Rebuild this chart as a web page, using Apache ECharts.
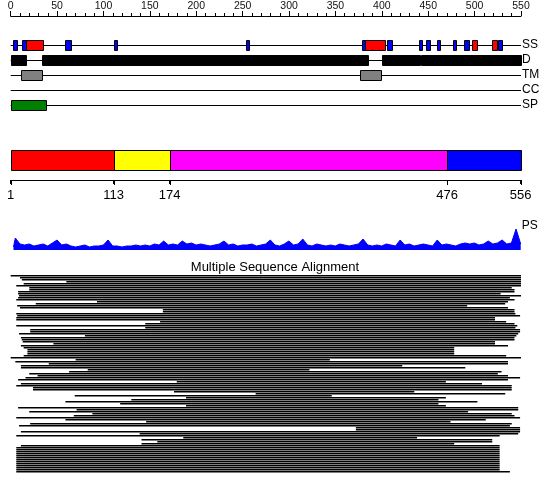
<!DOCTYPE html>
<html><head><meta charset="utf-8">
<script src="https://cdn.jsdelivr.net/npm/echarts@6/dist/echarts.min.js"></script>
<style>html,body{margin:0;padding:0;background:#fff}#c{width:550px;height:495px}</style>
</head><body><div id="c"></div>
<script>
// ---------- data ----------
const seqRange = [0, 550];
const trackNames = ['SS', 'D', 'TM', 'CC', 'SP'];
const ssHelix = [[16, 35], [382, 403], [497, 503], [519, 524]];
const ssStrand = [[2, 7], [12, 16], [59, 65], [111, 115], [254, 257], [379, 382], [406, 411], [440, 443], [448, 452], [459, 463], [477, 480], [489, 494], [525, 530]];
const disorder = [[0, 17], [34, 385], [400, 441], [442, 550]];
const transmem = [[11, 34], [377, 399]];
const coiledCoil = [];
const signalPep = [[0, 38]];
const domainBounds = [1, 113, 174, 476, 556];
const psProfile = [[3,3],[5,12],[10,6],[15,5],[20,6],[25,4],[30,5],[35,6],[40,4],[45,7],[50,10],[55,5],[60,6],[65,4],[70,3],[75,4],[80,5],[85,3],[90,4],[95,4],[100,5],[105,10],[110,4],[115,4],[120,3],[125,4],[130,4],[135,5],[140,4],[145,5],[150,4],[155,6],[160,5],[165,9],[170,5],[175,6],[180,5],[185,9],[190,6],[195,7],[200,5],[205,6],[210,5],[215,4],[220,5],[225,6],[230,9],[235,5],[240,6],[245,4],[250,5],[255,5],[260,6],[265,4],[270,5],[275,6],[280,10],[285,5],[290,4],[295,6],[300,9],[305,5],[310,6],[315,11],[320,5],[325,4],[330,6],[335,5],[340,4],[345,5],[350,4],[355,6],[360,5],[365,4],[370,5],[375,6],[380,11],[385,5],[390,4],[395,5],[400,4],[405,6],[410,5],[415,4],[420,10],[425,5],[430,6],[435,4],[440,5],[445,6],[450,5],[455,4],[460,10],[465,5],[470,6],[475,5],[480,4],[485,6],[490,7],[495,6],[500,7],[505,5],[510,6],[515,9],[520,6],[525,7],[530,10],[535,6],[540,7],[545,21],[550,6]];
const msaStart = [0,10,12,60,14,6,20,20,8,8,9,8,6,93,27,7,10,164,164,6,7,6,6,161,145,6,145,21,21,9,80,11,12,13,46,11,14,18,18,18,14,0,70,5,41,11,11,83,63,20,29,16,8,179,11,6,24,24,176,264,69,189,130,59,118,189,8,71,20,88,68,6,59,146,21,9,372,372,11,139,6,186,141,158,141,11,6,6,6,6,6,6,6,6,6,6,6,6,6];
const msaEnd   = [550,550,550,550,550,550,540,543,543,528,550,538,543,536,533,492,536,543,543,544,549,522,522,534,543,546,544,549,549,547,545,543,543,522,522,536,478,478,478,478,534,550,344,536,536,422,490,322,529,525,536,549,536,469,508,540,540,540,435,533,346,469,461,503,461,469,547,547,493,540,543,549,512,474,540,538,549,549,549,547,527,438,519,519,478,527,527,527,527,527,527,527,527,527,527,527,527,527,538];
const msaTitle = 'Multiple Sequence Alignment';

// ---------- styles ----------
const FONT = 'Liberation Sans';
const domainColors = ['#ff0000', '#ffff00', '#ff00ff', '#0000ff'];
const LEFT = 10.7, RIGHT = 29;

function boxSeries(data, trackIdx, fill, h) {
  return {
    type: 'custom', xAxisIndex: 1, yAxisIndex: 1, z: 3,
    data: data.map(d => [d[0], d[1]]),
    renderItem(params, api) {
      const a = api.coord([api.value(0), trackIdx]);
      const b = api.coord([api.value(1), trackIdx]);
      const x0 = Math.round(a[0]) + 0.5, x1 = Math.round(b[0]) + 0.5;
      const y0 = Math.round(a[1] - h / 2) + 0.5;
      return { type: 'rect', shape: { x: x0, y: y0, width: x1 - x0, height: h },
        style: { fill: fill, stroke: '#000', lineWidth: 1 } };
    }
  };
}

const domainSegs = domainBounds.slice(0, -1).map((v, i) => [v, domainBounds[i + 1]]);

const option = {
  animation: false,
  backgroundColor: '#fff',
  title: { text: msaTitle, left: 'center', top: 256,
    textStyle: { fontFamily: FONT, fontSize: 13, fontWeight: 'normal', color: '#000' } },
  grid: [
    { left: LEFT, right: RIGHT, top: 16, height: 1 },
    { left: LEFT, right: RIGHT, top: 37.5, height: 75 },
    { left: LEFT, right: 29.3, top: 150, height: 20 },
    { left: LEFT, right: 29.3, top: 228, height: 22 },
    { left: LEFT, right: RIGHT, top: 274, height: 198 }
  ],
  xAxis: [
    { gridIndex: 0, type: 'value', position: 'top', min: seqRange[0], max: seqRange[1], interval: 50,
      axisLine: { show: true, onZero: false, lineStyle: { color: '#000', width: 1 } },
      axisTick: { show: true, length: 5, lineStyle: { color: '#000' } },
      minorTick: { show: true, splitNumber: 5, length: 3, lineStyle: { color: '#000' } },
      splitLine: { show: false }, minorSplitLine: { show: false },
      axisLabel: { margin: 4, fontFamily: FONT, fontSize: 10.5, color: '#111', showMinLabel: true, showMaxLabel: true } },
    { gridIndex: 1, type: 'value', min: seqRange[0], max: seqRange[1], show: false },
    { gridIndex: 2, type: 'value', position: 'bottom', offset: 10, min: domainBounds[0], max: domainBounds[domainBounds.length - 1],
      axisLine: { show: true, onZero: false, lineStyle: { color: '#000', width: 1 } },
      axisTick: { show: true, length: 4, customValues: domainBounds, lineStyle: { color: '#000', width: 1 } },
      splitLine: { show: false },
      axisLabel: { customValues: domainBounds, margin: 9, fontFamily: FONT, fontSize: 13, color: '#000', showMinLabel: true, showMaxLabel: true } },
    { gridIndex: 3, type: 'value', min: seqRange[0], max: seqRange[1], show: false },
    { gridIndex: 4, type: 'value', min: seqRange[0], max: seqRange[1], show: false }
  ],
  yAxis: [
    { gridIndex: 0, type: 'value', min: 0, max: 1, show: false },
    { gridIndex: 1, type: 'category', data: trackNames, inverse: true, position: 'right',
      axisLine: { show: false }, axisTick: { show: false }, splitLine: { show: false },
      axisLabel: { interval: 0, margin: 1, fontFamily: FONT, fontSize: 12, color: '#000' } },
    { gridIndex: 2, type: 'value', min: 0, max: 1, show: false },
    { gridIndex: 3, type: 'value', min: 0, max: 22, show: false },
    { gridIndex: 4, type: 'category', data: msaStart.map((_, i) => i), inverse: true, show: false }
  ],
  series: [
    // track baselines
    { type: 'custom', xAxisIndex: 1, yAxisIndex: 1, z: 1,
      data: trackNames.map((n, i) => [i]),
      renderItem(params, api) {
        const a = api.coord([seqRange[0], api.value(0)]);
        const b = api.coord([seqRange[1], api.value(0)]);
        const y = Math.round(a[1]) + 0.5;
        return { type: 'line', shape: { x1: a[0], y1: y, x2: b[0], y2: y }, style: { stroke: '#000', lineWidth: 1 } };
      } },
    boxSeries(ssStrand, 0, '#0000ff', 10),
    boxSeries(ssHelix, 0, '#ff0000', 10),
    boxSeries(disorder, 1, '#000000', 10),
    boxSeries(transmem, 2, '#808080', 10),
    boxSeries(coiledCoil, 3, '#ffa500', 10),
    boxSeries(signalPep, 4, '#008000', 10),
    // domains
    { type: 'custom', xAxisIndex: 2, yAxisIndex: 2, z: 3,
      data: domainSegs,
      renderItem(params, api) {
        const a = api.coord([api.value(0), 1]);
        const b = api.coord([api.value(1), 0]);
        const x0 = Math.round(a[0]) + 0.5, x1 = Math.round(b[0]) + 0.5;
        const y0 = Math.round(a[1]) + 0.5, y1 = Math.round(b[1]) + 0.5;
        return { type: 'rect', shape: { x: x0, y: y0, width: x1 - x0, height: y1 - y0 },
          style: { fill: domainColors[params.dataIndex % domainColors.length], stroke: '#000', lineWidth: 1 } };
      } },
    // domain boundary ticks under the axis line
    { type: 'custom', xAxisIndex: 2, yAxisIndex: 2, z: 3, clip: false,
      data: domainBounds.map(v => [v]),
      renderItem(params, api) {
        const a = api.coord([api.value(0), 0]);
        const x = Math.round(a[0]) + 0.5;
        const y = Math.round(a[1]) + 10;
        return { type: 'line', shape: { x1: x, y1: y, x2: x, y2: y + 5 }, style: { stroke: '#000', lineWidth: 1 } };
      } },
    // PS profile
    { type: 'line', xAxisIndex: 3, yAxisIndex: 3, data: psProfile, symbol: 'none', smooth: false,
      lineStyle: { color: '#0000ff', width: 1 }, areaStyle: { color: '#0000ff', opacity: 1 } },
    // MSA
    { type: 'custom', xAxisIndex: 4, yAxisIndex: 4, z: 2,
      data: msaStart.map((s, i) => [s, msaEnd[i], i]),
      renderItem(params, api) {
        const a = api.coord([api.value(0), api.value(2)]);
        const b = api.coord([api.value(1), api.value(2)]);
        return { type: 'rect', shape: { x: a[0], y: Math.floor(a[1]), width: b[0] - a[0], height: 1.5 },
          style: { fill: '#000' } };
      } }
  ]
};

const chart = echarts.init(document.getElementById('c'), null, { renderer: 'canvas' });
chart.setOption(option);
// "PS" label placed at the top end of the profile grid
const psTop = chart.convertToPixel({ gridIndex: 3 }, [seqRange[1], 22]);
chart.setOption({ graphic: [{ type: 'text', x: psTop[0] + 1, y: psTop[1] - 2,
  style: { text: 'PS', font: '12px ' + FONT, fill: '#000', verticalAlign: 'middle' } }] });
</script></body></html>
